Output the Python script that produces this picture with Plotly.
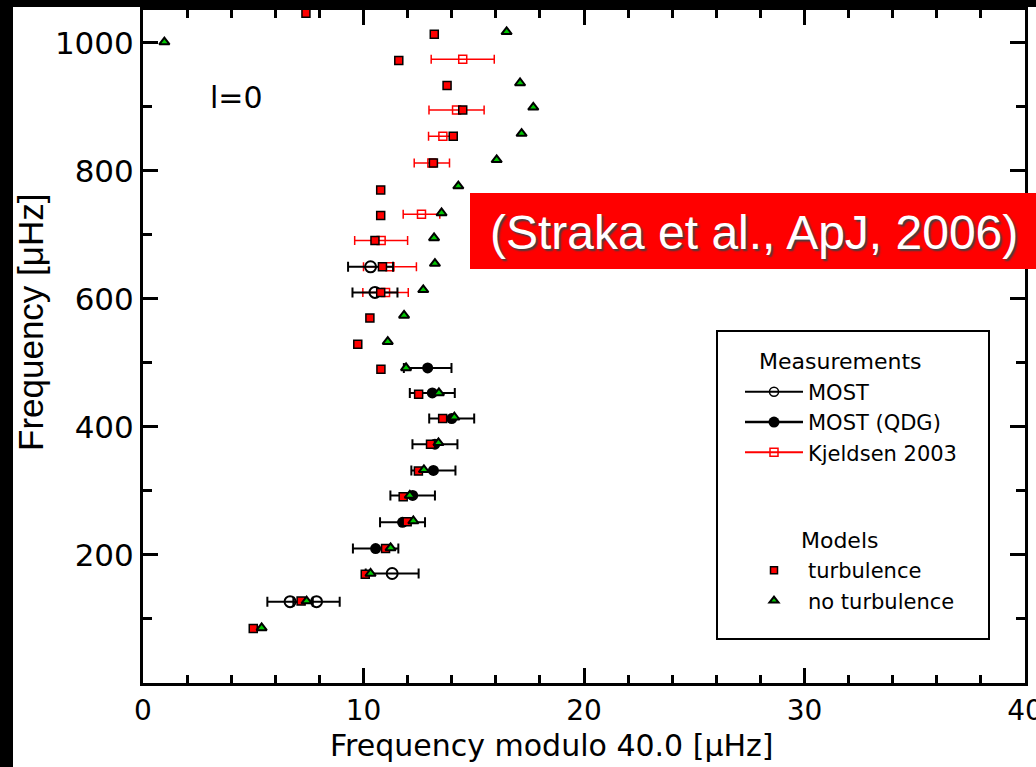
import plotly.graph_objects as go

# ---------------- data ----------------
# Models: turbulence (red squares)
turb_x = [5.0, 7.17, 10.08, 11.0, 11.98, 11.8, 12.49, 13.04, 13.59, 12.5, 10.79, 9.74, 10.29,
          10.78, 10.86, 10.52, 10.78, 10.78, 13.17, 14.07, 14.5, 13.79, 11.6, 13.21, 7.39]
turb_y = [85, 128, 170, 210, 252, 291, 331, 373, 413, 451, 490, 529, 570,
          610, 650, 691, 730, 770, 812, 854, 895, 933, 972, 1013, 1046]

# Models: no turbulence (green triangles)
noturb_x = [5.38, 7.42, 10.32, 11.23, 12.26, 12.1, 12.74, 13.4, 14.12, 13.42, 11.93, 11.1, 11.84,
            12.71, 13.24, 13.2, 13.54, 14.3, 16.04, 17.17, 17.7, 17.1, 0.97, 16.49]
noturb_y = [86, 128, 171, 211, 253, 293, 333, 375, 415, 453, 492, 533, 574,
            614, 655, 695, 734, 776, 817, 858, 899, 937, 1001, 1017]

# Measurements: MOST (open circles)
most_x = [6.67, 7.87, 11.3, 10.52, 10.32]
most_y = [127, 127, 171, 610, 650]
most_err = [1.03, 1.05, 1.2, 1.02, 1.02]

# Measurements: MOST (QDG) (filled circles)
qdg_x = [10.55, 11.77, 12.23, 13.17, 13.24, 14.0, 13.12, 12.91]
qdg_y = [210, 251, 293, 332, 373, 413, 453, 492]
qdg_err = [1.03, 1.02, 1.01, 1.0, 1.02, 1.02, 1.02, 1.08]

# Measurements: Kjeldsen 2003 (open red squares)
kj_x = [11.0, 11.2, 10.8, 12.63, 13.1, 13.6, 14.22, 14.5]
kj_y = [610, 650, 691, 732, 812, 854, 895, 974]
kj_err = [1.03, 1.2, 1.2, 0.83, 0.8, 0.65, 1.25, 1.43]

x_ticks = [0, 10, 20, 30, 40]
y_ticks = [200, 400, 600, 800, 1000]

# ---------------- layout constants ----------------
W, H = 1036, 767
ML, MR, MT, MB = 143, 11, 10, 84
PW, PH = W - ML - MR, H - MT - MB


def px2paper_x(px):
    return (px - ML) / PW


def px2paper_y(py):
    return (H - MB - py) / PH


HERSHEY = "DejaVu Sans, sans-serif"
ARIAL = "Liberation Sans, Arial, Helvetica, sans-serif"
GREEN = "#00c800"
RED = "#ff0000"
NB = "\u00a0"

fig = go.Figure()

# measurements
fig.add_trace(go.Scatter(
    x=kj_x, y=kj_y, mode="markers", showlegend=False,
    marker=dict(symbol="square-open", size=8, color=RED, line=dict(width=1.5, color=RED)),
    error_x=dict(type="data", array=kj_err, color=RED, thickness=1.5, width=4.5)))
fig.add_trace(go.Scatter(
    x=most_x, y=most_y, mode="markers", showlegend=False,
    marker=dict(symbol="circle-open", size=11, color="black", line=dict(width=2, color="black")),
    error_x=dict(type="data", array=most_err, color="black", thickness=2, width=5)))
fig.add_trace(go.Scatter(
    x=qdg_x, y=qdg_y, mode="markers", showlegend=False,
    marker=dict(symbol="circle", size=11, color="black"),
    error_x=dict(type="data", array=qdg_err, color="black", thickness=2, width=5)))

# models
fig.add_trace(go.Scatter(
    x=turb_x, y=turb_y, mode="markers", showlegend=False,
    marker=dict(symbol="square", size=8, color=RED, line=dict(width=1.5, color="black"))))
fig.add_trace(go.Scatter(
    x=noturb_x, y=noturb_y, mode="markers", showlegend=False,
    marker=dict(symbol="triangle-up", size=9, color=GREEN, line=dict(width=2, color="black"))))

# legend entries
fig.add_trace(go.Scatter(
    x=[None], y=[None], mode="lines+markers", name="MOST", legendgroup="meas",
    legendgrouptitle=dict(text=NB * 2 + "Measurements"),
    line=dict(color="black", width=2),
    marker=dict(symbol="circle-open", size=9, color="black", line=dict(width=1.5))))
fig.add_trace(go.Scatter(
    x=[None], y=[None], mode="lines+markers", name="MOST (QDG)", legendgroup="meas",
    line=dict(color="black", width=2.5),
    marker=dict(symbol="circle", size=11, color="black")))
fig.add_trace(go.Scatter(
    x=[None], y=[None], mode="lines+markers", name="Kjeldsen 2003", legendgroup="meas",
    line=dict(color=RED, width=2),
    marker=dict(symbol="square-open", size=8, color=RED, line=dict(width=1.5))))
fig.add_trace(go.Scatter(
    x=[None], y=[None], mode="markers", name="turbulence", legendgroup="mod",
    legendgrouptitle=dict(text=NB * 8 + "Models"),
    marker=dict(symbol="square", size=7, color=RED, line=dict(width=1.5, color="black"))))
fig.add_trace(go.Scatter(
    x=[None], y=[None], mode="markers", name="no turbulence", legendgroup="mod",
    marker=dict(symbol="triangle-up", size=8, color=GREEN, line=dict(width=2, color="black"))))

axis_common = dict(
    showline=True, linecolor="black", linewidth=3, mirror="ticks",
    ticks="inside", ticklen=15, tickwidth=3, tickcolor="black",
    showgrid=False, zeroline=False, automargin=False,
)

fig.update_xaxes(
    range=[0, 40], tickvals=x_ticks, ticktext=[str(v) for v in x_ticks],
    tickfont=dict(family=HERSHEY, size=28, color="black"),
    ticklabeloverflow="allow",
    minor=dict(dtick=2, ticks="inside", ticklen=8, tickwidth=2.5, tickcolor="black"),
    **axis_common)
fig.update_yaxes(
    range=[0, 1051], tickvals=y_ticks, ticktext=[str(v) for v in y_ticks],
    tickfont=dict(family="DejaVu Sans, sans-serif", size=31, color="black"),
    minor=dict(dtick=100, ticks="inside", ticklen=9, tickwidth=2.5, tickcolor="black"),
    **axis_common)

shapes = [
    # black frame strips (left and top)
    dict(type="rect", xref="paper", yref="paper", layer="above",
         x0=px2paper_x(0), x1=px2paper_x(13), y0=px2paper_y(H), y1=px2paper_y(0),
         fillcolor="black", line=dict(width=0)),
    dict(type="rect", xref="paper", yref="paper", layer="above",
         x0=px2paper_x(0), x1=px2paper_x(W), y0=px2paper_y(7), y1=px2paper_y(0),
         fillcolor="black", line=dict(width=0)),
    # red citation box
    dict(type="rect", xref="paper", yref="paper", layer="above",
         x0=px2paper_x(470), x1=px2paper_x(W + 2), y0=px2paper_y(269), y1=px2paper_y(193),
         fillcolor=RED, line=dict(width=0)),
    # legend frame
    dict(type="rect", xref="paper", yref="paper", layer="above",
         x0=px2paper_x(717), x1=px2paper_x(989), y0=px2paper_y(639), y1=px2paper_y(331),
         fillcolor="rgba(0,0,0,0)", line=dict(width=2, color="black")),
]

annotations = [
    dict(text="(Straka et al., ApJ, 2006)", xref="paper", yref="paper",
         x=px2paper_x(754), y=px2paper_y(232), xanchor="center", yanchor="middle",
         showarrow=False,
         font=dict(family=ARIAL, size=48, color="white", shadow="2px 2px 2px #404040")),
    dict(text="l=0", xref="x", yref="y", x=4.26, y=915, showarrow=False,
         xanchor="center", yanchor="middle",
         font=dict(family=HERSHEY, size=30, color="black")),
    dict(text="Frequency modulo 40.0 [μHz]", xref="paper", yref="paper",
         x=px2paper_x(552), y=px2paper_y(745), xanchor="center", yanchor="middle",
         showarrow=False, font=dict(family=HERSHEY, size=30, color="black")),
    dict(text="Frequency [μHz]", xref="paper", yref="paper", textangle=-90,
         x=px2paper_x(30), y=px2paper_y(322), xanchor="center", yanchor="middle",
         showarrow=False, font=dict(family=ARIAL, size=35, color="black")),
]

fig.update_layout(
    width=W, height=H,
    margin=dict(l=ML, r=MR, t=MT, b=MB, pad=0, autoexpand=False),
    paper_bgcolor="white", plot_bgcolor="white",
    shapes=shapes, annotations=annotations,
    legend=dict(
        x=px2paper_x(740), y=px2paper_y(340), xanchor="left", yanchor="top",
        bgcolor="rgba(0,0,0,0)", borderwidth=0,
        font=dict(family=HERSHEY, size=21, color="black"),
        grouptitlefont=dict(family=HERSHEY, size=22, color="black"),
        tracegroupgap=56, itemwidth=58, traceorder="grouped",
    ),
)

fig.write_html("out.html")
